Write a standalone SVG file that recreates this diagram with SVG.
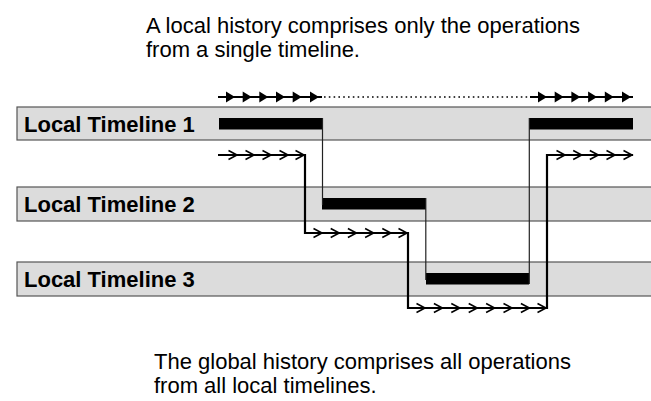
<svg xmlns="http://www.w3.org/2000/svg" xmlns:xlink="http://www.w3.org/1999/xlink" width="651" height="401" viewBox="0 0 651 401">
<style>
  .cap { font-family: "Liberation Sans", Arial, sans-serif; font-size: 22px; fill: #000; }
  .lbl { font-family: "Liberation Sans", Arial, sans-serif; font-size: 22px; font-weight: bold; fill: #000; }
  .band { fill: #dcdcdc; stroke: #555; stroke-width: 1.2; }
  .bar { fill: #000; }
  .thin { fill: none; stroke: #222; stroke-width: 1.2; }
  .thick { fill: none; stroke: #000; stroke-width: 2.2; stroke-linejoin: miter; }
  .chev { fill: none; stroke: #000; stroke-width: 1.6; }
  .topline { fill: none; stroke: #000; stroke-width: 1.8; }
  .dots { fill: none; stroke: #000; stroke-width: 1.6; stroke-dasharray: 1.6 3.2; }
</style>
<defs>
  <path id="chev" class="chev" d="M-8.5,-4.5 L0,0 L-8.5,4.5"/>
  <path id="tri" d="M-9,-5.5 L0,0 L-9,5.5 Z" fill="#000"/>
</defs>

<g id="caption-top">
  <text class="cap" x="146" y="33">A local history comprises only the operations</text>
  <text class="cap" x="146" y="57">from a single timeline.</text>
</g>

<g id="timeline1">
  <rect class="band" x="17" y="107" width="660" height="33"/>
  <text class="lbl" x="24" y="131.5">Local Timeline 1</text>
  <rect class="bar" x="219" y="118" width="104" height="11.5"/>
  <rect class="bar" x="529" y="118" width="104" height="11.5"/>
</g>

<g id="timeline2">
  <rect class="band" x="17" y="187" width="660" height="34"/>
  <text class="lbl" x="24" y="211.5">Local Timeline 2</text>
  <rect class="bar" x="322" y="198" width="104" height="11.5"/>
</g>

<g id="timeline3">
  <rect class="band" x="17" y="262" width="660" height="34"/>
  <text class="lbl" x="24" y="286.5">Local Timeline 3</text>
  <rect class="bar" x="426" y="273" width="103" height="11.5"/>
</g>

<g id="connectors">
  <path class="thin" d="M322.5,118 V205"/>
  <path class="thin" d="M425.8,198 V280"/>
  <path class="thin" d="M529.3,118 V284"/>

  <path class="thick" d="M218,155 H305 V233 H408 V308 H547 V155 H633"/>
  <use xlink:href="#chev" x="237" y="155"/>
  <use xlink:href="#chev" x="254" y="155"/>
  <use xlink:href="#chev" x="271" y="155"/>
  <use xlink:href="#chev" x="288" y="155"/>
  <use xlink:href="#chev" x="304" y="155"/>

  <use xlink:href="#chev" x="322" y="233"/>
  <use xlink:href="#chev" x="339.2" y="233"/>
  <use xlink:href="#chev" x="356.4" y="233"/>
  <use xlink:href="#chev" x="373.6" y="233"/>
  <use xlink:href="#chev" x="390.8" y="233"/>
  <use xlink:href="#chev" x="407" y="233"/>

  <use xlink:href="#chev" x="425" y="308"/>
  <use xlink:href="#chev" x="442.4" y="308"/>
  <use xlink:href="#chev" x="459.8" y="308"/>
  <use xlink:href="#chev" x="477.2" y="308"/>
  <use xlink:href="#chev" x="494.6" y="308"/>
  <use xlink:href="#chev" x="512" y="308"/>
  <use xlink:href="#chev" x="529.4" y="308"/>
  <use xlink:href="#chev" x="546" y="308"/>

  <use xlink:href="#chev" x="565" y="155"/>
  <use xlink:href="#chev" x="581.7" y="155"/>
  <use xlink:href="#chev" x="598.3" y="155"/>
  <use xlink:href="#chev" x="615" y="155"/>
  <use xlink:href="#chev" x="632" y="155"/>

  <path class="topline" d="M218,97 H322"/>
  <path class="dots" d="M324,97 H528"/>
  <path class="topline" d="M530,97 H633"/>
  <use xlink:href="#tri" x="235" y="97"/>
  <use xlink:href="#tri" x="251.7" y="97"/>
  <use xlink:href="#tri" x="268.3" y="97"/>
  <use xlink:href="#tri" x="285" y="97"/>
  <use xlink:href="#tri" x="301.7" y="97"/>
  <use xlink:href="#tri" x="319" y="97"/>
  <use xlink:href="#tri" x="547" y="97"/>
  <use xlink:href="#tri" x="563.7" y="97"/>
  <use xlink:href="#tri" x="580.4" y="97"/>
  <use xlink:href="#tri" x="597.1" y="97"/>
  <use xlink:href="#tri" x="613.8" y="97"/>
  <use xlink:href="#tri" x="631" y="97"/>
</g>

<g id="caption-bottom">
  <text class="cap" x="154" y="369">The global history comprises all operations</text>
  <text class="cap" x="154" y="393">from all local timelines.</text>
</g>
</svg>
